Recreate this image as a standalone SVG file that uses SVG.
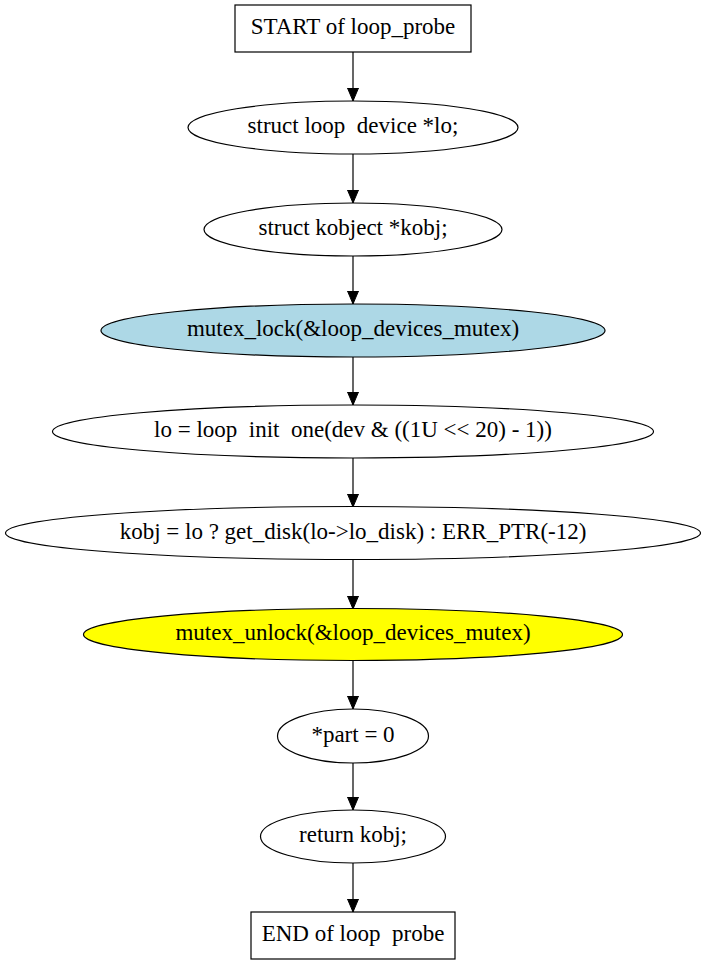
<svg xmlns="http://www.w3.org/2000/svg" width="707" height="965" viewBox="0 0 707 965">
<style>
  .shape { stroke: #000; stroke-width: 1.2; fill: #fff; }
  .blue { fill: #add8e6; }
  .yellow { fill: #ffff00; }
  .lbl { font-family: "Liberation Serif", Tinos, "Times New Roman", "DejaVu Serif", serif; font-size: 23px; fill: #000; text-anchor: middle; white-space: pre; }
  .edge { stroke: #000; stroke-width: 1.2; fill: none; }
</style>
<defs>
  <marker id="arrow" markerWidth="14" markerHeight="12" refX="13" refY="6" orient="auto" markerUnits="userSpaceOnUse">
    <polygon points="0,0.5 13,6 0,11.5" fill="#000" stroke="#000" stroke-width="1"/>
  </marker>
</defs>
<rect width="707" height="965" fill="#fff"/>
<g id="connectors">
  <line class="edge" x1="353" y1="52" x2="353" y2="101" marker-end="url(#arrow)"/>
  <line class="edge" x1="353" y1="154" x2="353" y2="203" marker-end="url(#arrow)"/>
  <line class="edge" x1="353" y1="256" x2="353" y2="304" marker-end="url(#arrow)"/>
  <line class="edge" x1="353" y1="357" x2="353" y2="405" marker-end="url(#arrow)"/>
  <line class="edge" x1="353" y1="458" x2="353" y2="507" marker-end="url(#arrow)"/>
  <line class="edge" x1="353" y1="559" x2="353" y2="609" marker-end="url(#arrow)"/>
  <line class="edge" x1="353" y1="660" x2="353" y2="709" marker-end="url(#arrow)"/>
  <line class="edge" x1="353" y1="763" x2="353" y2="810" marker-end="url(#arrow)"/>
  <line class="edge" x1="353" y1="863" x2="353" y2="912" marker-end="url(#arrow)"/>
</g>
<g id="start">
  <rect class="shape" x="235" y="5" width="236" height="47"/>
  <text class="lbl" x="353" y="33.5" font-family="Liberation Serif, serif">START of loop_probe</text>
</g>
<g id="n1">
  <ellipse class="shape" cx="353" cy="127.5" rx="165" ry="26.5"/>
  <text class="lbl" x="353" y="133">struct loop  device *lo;</text>
</g>
<g id="n2">
  <ellipse class="shape" cx="353" cy="229.5" rx="149" ry="26.5"/>
  <text class="lbl" x="353" y="235">struct kobject *kobj;</text>
</g>
<g id="n3">
  <ellipse class="shape blue" cx="353" cy="330.5" rx="252" ry="26.5"/>
  <text class="lbl" x="353" y="336">mutex_lock(&amp;loop_devices_mutex)</text>
</g>
<g id="n4">
  <ellipse class="shape" cx="353" cy="431.5" rx="300.5" ry="26.5"/>
  <text class="lbl" x="353" y="437">lo = loop  init  one(dev &amp; ((1U &lt;&lt; 20) - 1))</text>
</g>
<g id="n5">
  <ellipse class="shape" cx="353" cy="533" rx="347.5" ry="26.5"/>
  <text class="lbl" x="353" y="538.5">kobj = lo ? get_disk(lo-&gt;lo_disk) : ERR_PTR(-12)</text>
</g>
<g id="n6">
  <ellipse class="shape yellow" cx="353" cy="634.5" rx="269.5" ry="26"/>
  <text class="lbl" x="353" y="640">mutex_unlock(&amp;loop_devices_mutex)</text>
</g>
<g id="n7">
  <ellipse class="shape" cx="353" cy="736" rx="75.5" ry="27"/>
  <text class="lbl" x="353" y="741.5">*part = 0</text>
</g>
<g id="n8">
  <ellipse class="shape" cx="353" cy="836.5" rx="92.5" ry="26.5"/>
  <text class="lbl" x="353" y="842">return kobj;</text>
</g>
<g id="end">
  <rect class="shape" x="251" y="912" width="204" height="47"/>
  <text class="lbl" x="353" y="940.5">END of loop  probe</text>
</g>
</svg>
